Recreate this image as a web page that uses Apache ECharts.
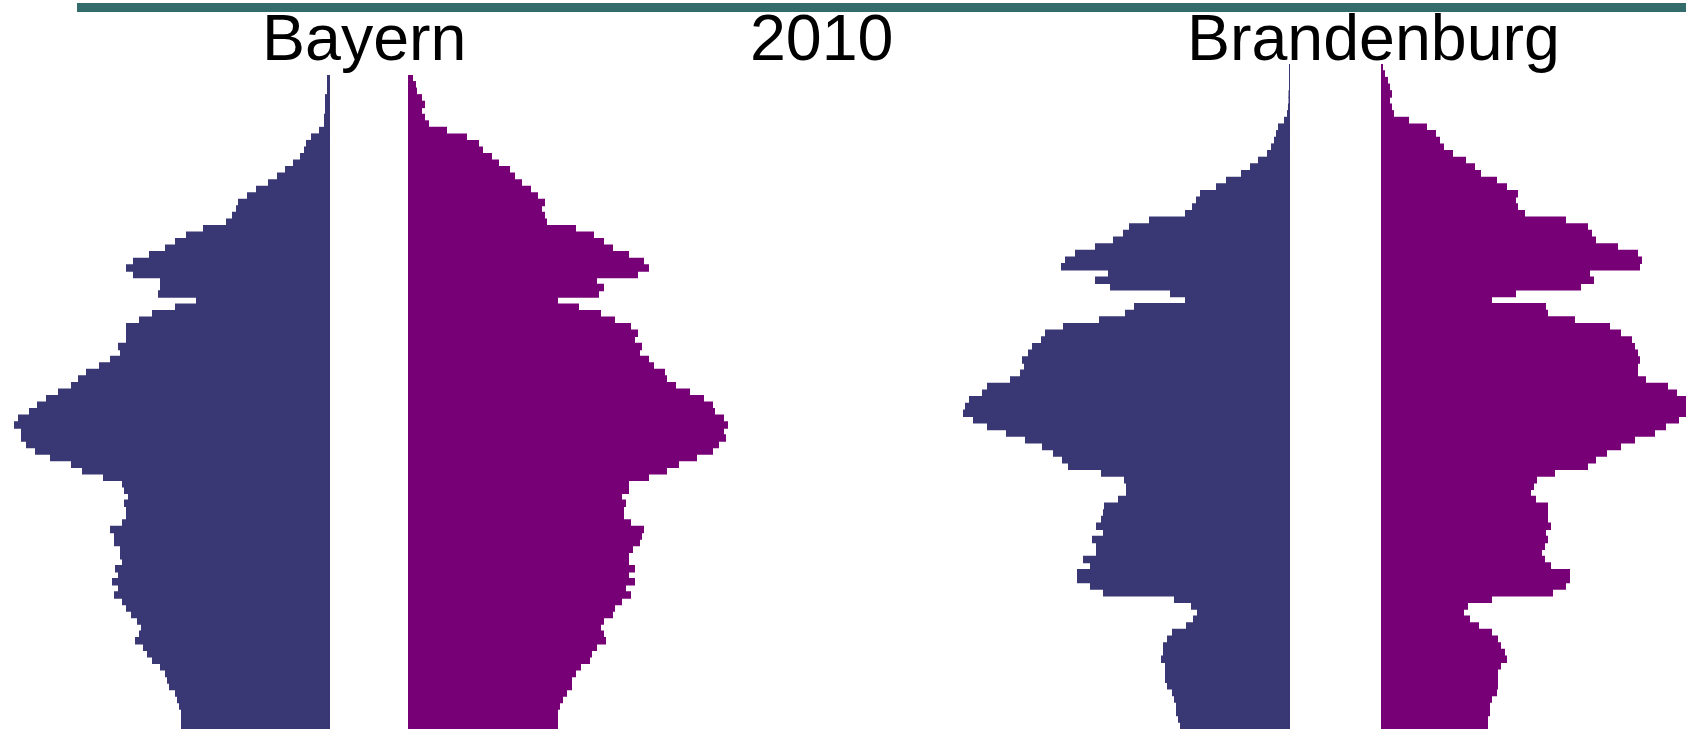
<!DOCTYPE html>
<html>
<head>
<meta charset="utf-8">
<title>Bevölkerungspyramiden 2010</title>
<script src="https://cdn.jsdelivr.net/npm/echarts@6/dist/echarts.min.js"></script>
<style>
  html, body { margin: 0; padding: 0; background: #fff; }
  #chart { width: 1686px; height: 729px; }
</style>
</head>
<body>
<div id="chart"></div>
<script>
  // ages 0..99, bottom to top
  var ages = []
  for (var a = 0; a < 100; a++) ages.push(String(a))

  // bar lengths (relative units, each pyramid on its own scale)
  var bayernMale = [
    149, 149, 149, 151, 153, 155, 161, 163, 165, 170,
    178, 183, 187, 195, 191, 189, 193, 199, 204, 208,
    216, 212, 218, 212, 215, 208, 210, 210, 216, 216,
    220, 208, 204, 204, 206, 202, 206, 208, 227, 248,
    259, 280, 295, 304, 309, 309, 316, 312, 301, 293,
    284, 272, 259, 252, 244, 231, 220, 210, 212, 204,
    204, 204, 191, 178, 155, 134, 172, 170, 170, 197,
    204, 197, 181, 165, 155, 144, 127, 104, 98, 94,
    92, 83, 74, 62, 53, 45, 37, 30, 26, 24,
    19, 11, 6, 6, 5, 5, 5, 3, 3, 3
  ]
  var bayernFemale = [
    150, 150, 150, 152, 155, 159, 164, 164, 168, 173,
    182, 184, 189, 198, 196, 193, 196, 205, 207, 214,
    223, 218, 227, 221, 227, 221, 221, 225, 232, 234,
    236, 223, 216, 216, 218, 214, 221, 221, 241, 259,
    271, 289, 305, 311, 318, 316, 320, 316, 307, 305,
    296, 282, 268, 259, 257, 246, 241, 232, 234, 227,
    230, 223, 207, 193, 171, 150, 191, 196, 189, 230,
    241, 236, 221, 205, 196, 186, 168, 139, 137, 134,
    137, 130, 123, 114, 107, 102, 91, 84, 75, 71,
    59, 39, 21, 17, 14, 17, 14, 9, 8, 5
  ]
  var brandenburgMale = [
    110, 112, 114, 114, 116, 118, 123, 125, 125, 125,
    129, 127, 127, 123, 118, 104, 97, 93, 99, 116,
    187, 200, 213, 213, 200, 207, 194, 194, 198, 187,
    194, 189, 187, 186, 172, 164, 164, 166, 189, 222,
    228, 237, 248, 265, 284, 303, 317, 327, 325, 321,
    308, 303, 280, 270, 266, 268, 262, 258, 249, 245,
    227, 191, 165, 156, 105, 120, 180, 195, 182, 229,
    225, 215, 195, 177, 167, 161, 141, 105, 98, 94,
    90, 74, 64, 49, 40, 32, 23, 19, 16, 14,
    12, 6, 3, 2, 1.5, 1.5, 1, 1, 1, 1
  ]
  var brandenburgFemale = [
    107, 107, 109, 109, 111, 116, 117, 117, 117, 120,
    126, 124, 120, 117, 111, 98, 89, 83, 87, 111,
    172, 185, 189, 189, 170, 164, 161, 164, 167, 165,
    170, 167, 167, 167, 155, 150, 153, 156, 174, 207,
    215, 226, 240, 254, 274, 285, 298, 318, 316, 310,
    296, 287, 265, 257, 257, 259, 257, 254, 251, 240,
    229, 194, 167, 165, 111, 135, 200, 213, 209, 259,
    261, 257, 237, 215, 211, 207, 185, 144, 137, 135,
    137, 126, 116, 100, 94, 85, 72, 63, 59, 55,
    46, 28, 13, 11, 9, 11, 9, 7, 4, 2
  ]

  var maleColor = '#3a3874'
  var femaleColor = '#770077'
  var scaleMax = 330
  // the right pyramid runs off the page, so its last axis stops at the edge
  var cutMax = 305

  var chart = echarts.init(document.getElementById('chart'), null, { renderer: 'canvas' })

  function xAxisFor(idx, inverse, max) {
    return { gridIndex: idx, type: 'value', min: 0, max: max, inverse: inverse, show: false }
  }
  function yAxisFor(idx) {
    return { gridIndex: idx, type: 'category', data: ages, show: false, boundaryGap: true }
  }
  function barSeries(name, idx, data, color) {
    return {
      name: name,
      type: 'bar',
      xAxisIndex: idx,
      yAxisIndex: idx,
      data: data,
      barWidth: 7.5,
      barGap: '-100%',
      clip: true,
      itemStyle: { color: color },
      emphasis: { disabled: true },
      silent: true
    }
  }

  var titleFont = { fontFamily: 'Liberation Sans, Arial, sans-serif', fontSize: 64.5, fill: '#000' }

  chart.setOption({
    animation: false,
    backgroundColor: '#fff',
    grid: [
      { left: 0, top: 75, width: scaleMax, height: 654 },
      { left: 408, top: 75, width: scaleMax, height: 654 },
      { left: 960, top: 64, width: scaleMax, height: 665 },
      { left: 1381, top: 64, width: cutMax, height: 665 }
    ],
    xAxis: [
      xAxisFor(0, true, scaleMax),
      xAxisFor(1, false, scaleMax),
      xAxisFor(2, true, scaleMax),
      xAxisFor(3, false, cutMax)
    ],
    yAxis: [yAxisFor(0), yAxisFor(1), yAxisFor(2), yAxisFor(3)],
    series: [
      barSeries('Bayern Männer', 0, bayernMale, maleColor),
      barSeries('Bayern Frauen', 1, bayernFemale, femaleColor),
      barSeries('Brandenburg Männer', 2, brandenburgMale, maleColor),
      barSeries('Brandenburg Frauen', 3, brandenburgFemale, femaleColor)
    ],
    graphic: [
      { type: 'rect', shape: { x: 77, y: 3, width: 1609, height: 9 }, style: { fill: '#346b6b' }, silent: true },
      { type: 'text', x: 262, y: 42.5, style: Object.assign({ text: 'Bayern', verticalAlign: 'middle' }, titleFont) },
      { type: 'text', x: 750, y: 42.5, style: Object.assign({ text: '2010', verticalAlign: 'middle' }, titleFont) },
      { type: 'text', x: 1187, y: 42.5, style: Object.assign({ text: 'Brandenburg', verticalAlign: 'middle' }, titleFont) }
    ]
  })
</script>
</body>
</html>
